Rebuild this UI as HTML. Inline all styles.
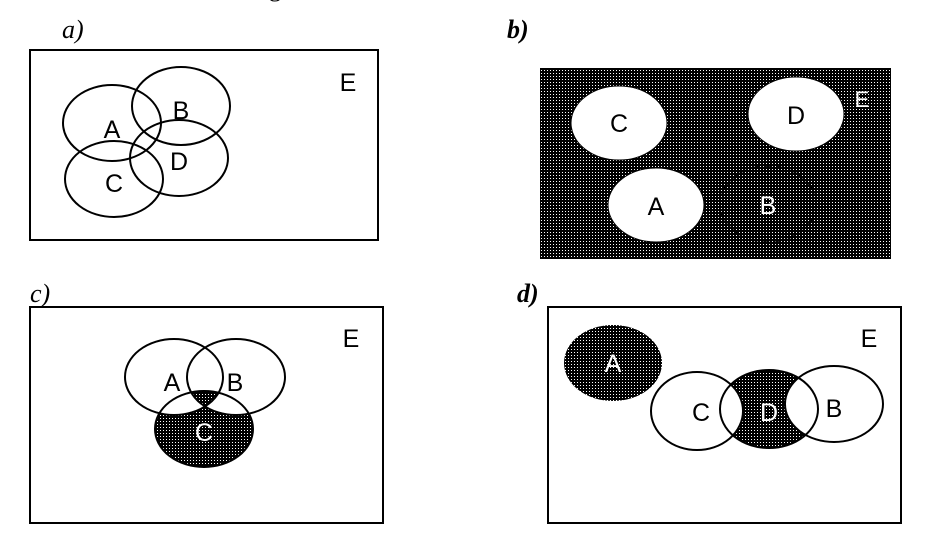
<!DOCTYPE html>
<html><head><meta charset="utf-8"><style>
html,body{margin:0;padding:0;background:#fff;}
svg{display:block;}
.l{font-family:"Liberation Sans",sans-serif;font-size:25px;text-anchor:middle;}
.p{font-family:"Liberation Serif",serif;font-style:italic;font-size:26px;}
</style></head><body>
<svg width="930" height="560" viewBox="0 0 930 560" xmlns="http://www.w3.org/2000/svg">
<defs>
<pattern id="dot" width="3" height="3" patternUnits="userSpaceOnUse">
<rect width="3" height="3" fill="#000"/><rect x="1" y="1" width="1" height="1" fill="#fff"/>
</pattern>
<clipPath id="cc"><ellipse cx="204" cy="429" rx="49" ry="38"/></clipPath>
<clipPath id="cABCD"><ellipse cx="112" cy="123" rx="49" ry="38"/></clipPath>
<clipPath id="cB"><ellipse cx="181" cy="106" rx="49" ry="39"/></clipPath>
<clipPath id="cD"><ellipse cx="179" cy="158" rx="49" ry="38"/></clipPath>
<clipPath id="cd"><ellipse cx="769" cy="409" rx="49" ry="39"/></clipPath>
</defs>
<text x="60" y="-4" class="p" style="font-style:normal">to the sets of the diagram</text>
<text x="62" y="38" class="p">a)</text>
<text x="507" y="38" class="p" style="font-weight:bold">b)</text>
<text x="30" y="302" class="p">c)</text>
<text x="517" y="302" class="p" style="font-weight:bold">d)</text>

<!-- a -->
<rect x="30" y="50" width="348" height="190" fill="#fff" stroke="#000" stroke-width="2"/>
<g clip-path="url(#cABCD)"><g clip-path="url(#cB)"><g clip-path="url(#cD)">
<ellipse cx="114" cy="179" rx="49" ry="38" fill="url(#dot)"/>
</g></g></g>
<g fill="none" stroke="#000" stroke-width="2">
<ellipse cx="112" cy="123" rx="49" ry="38"/>
<ellipse cx="181" cy="106" rx="49" ry="39"/>
<ellipse cx="179" cy="158" rx="49" ry="38"/>
<ellipse cx="114" cy="179" rx="49" ry="38"/>
</g>
<text x="112" y="138" class="l">A</text>
<text x="181" y="119" class="l">B</text>
<text x="179" y="170" class="l">D</text>
<text x="114" y="192" class="l">C</text>
<text x="348" y="91" class="l">E</text>

<!-- b -->
<rect x="540" y="68" width="351" height="191" fill="url(#dot)"/>
<g fill="#fff" stroke="#000" stroke-width="1">
<ellipse cx="619" cy="123" rx="48" ry="37"/>
<ellipse cx="796" cy="114" rx="48" ry="37"/>
<ellipse cx="656" cy="205" rx="48" ry="37"/>
</g>
<ellipse cx="768" cy="204" rx="48" ry="38" fill="none" stroke="#000" stroke-width="1.5" stroke-dasharray="2 2"/>
<text x="619" y="132" class="l">C</text>
<text x="796" y="124" class="l">D</text>
<text x="656" y="215" class="l">A</text>
<text x="768" y="214" class="l" fill="#fff">B</text>
<text x="862" y="107" class="l" fill="#fff" style="font-size:22px">E</text>

<!-- c -->
<rect x="30" y="307" width="353" height="216" fill="#fff" stroke="#000" stroke-width="2"/>
<ellipse cx="204" cy="429" rx="49" ry="38" fill="url(#dot)"/>
<path clip-path="url(#cc)" fill="#fff" fill-rule="evenodd" d="M125,377a49,38 0 1,0 98,0a49,38 0 1,0 -98,0Z M187,377a49,38 0 1,0 98,0a49,38 0 1,0 -98,0Z"/>
<g fill="none" stroke="#000" stroke-width="2">
<ellipse cx="174" cy="377" rx="49" ry="38"/>
<ellipse cx="236" cy="377" rx="49" ry="38"/>
<ellipse cx="204" cy="429" rx="49" ry="38"/>
</g>
<text x="172" y="391" class="l">A</text>
<text x="235" y="391" class="l">B</text>
<text x="204" y="441" class="l" fill="#fff">C</text>
<text x="351" y="347" class="l">E</text>

<!-- d -->
<rect x="548" y="307" width="353" height="216" fill="#fff" stroke="#000" stroke-width="2"/>
<ellipse cx="613" cy="363" rx="49" ry="38" fill="url(#dot)"/>
<ellipse cx="769" cy="409" rx="49" ry="39" fill="url(#dot)"/>
<g clip-path="url(#cd)" fill="#fff">
<ellipse cx="697" cy="411" rx="46" ry="39"/>
<ellipse cx="834" cy="404" rx="49" ry="38"/>
</g>
<g fill="none" stroke="#000" stroke-width="2">
<ellipse cx="697" cy="411" rx="46" ry="39"/>
<ellipse cx="769" cy="409" rx="49" ry="39"/>
<ellipse cx="834" cy="404" rx="49" ry="38"/>
</g>
<text x="613" y="372" class="l" fill="#fff">A</text>
<text x="701" y="421" class="l">C</text>
<text x="769" y="421" class="l" fill="#fff">D</text>
<text x="834" y="417" class="l">B</text>
<text x="869" y="347" class="l">E</text>
</svg>
</body></html>
